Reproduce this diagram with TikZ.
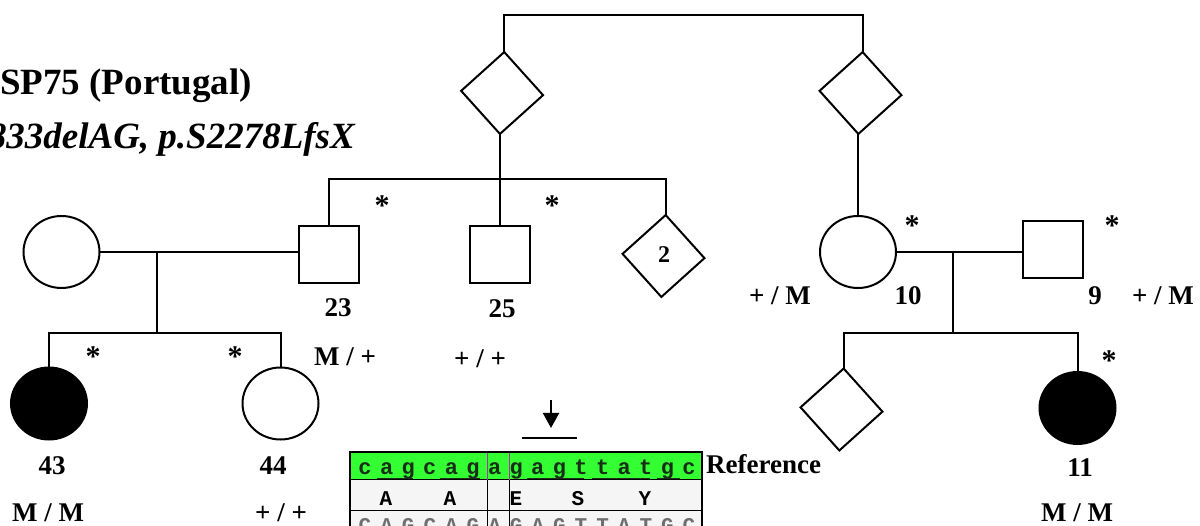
\documentclass[tikz,border=0pt]{standalone}
\usepackage{fontspec}
\setmainfont{Liberation Serif}
\newfontfamily\seqfont{Liberation Mono}
\usetikzlibrary{shapes.geometric,arrows.meta}
\definecolor{seqgreen}{RGB}{51,255,51}
\definecolor{seqmagenta}{RGB}{176,48,176}
\definecolor{seqpale}{RGB}{245,245,245}
\definecolor{seqink}{RGB}{25,45,25}
\definecolor{seqgray}{RGB}{110,110,110}
\tikzset{
	ped/.style={draw, line width=2pt, inner sep=0pt, outer sep=0pt},
	female/.style={ped, ellipse, minimum width=76pt, minimum height=72pt},
	male/.style={ped, rectangle, minimum width=60pt, minimum height=57pt},
	unknown/.style={ped, rectangle, rotate=42, minimum size=58pt},
	affected/.style={fill=black},
	pedline/.style={line width=2pt},
	pedlabel/.style={anchor=base, inner sep=0pt, font=\fontsize{27}{27}\selectfont\bfseries},
	starlabel/.style={anchor=base, inner sep=0pt, font=\fontsize{30}{30}\selectfont\bfseries},
	seqlow/.style={anchor=base, inner sep=0pt, text=seqink, font=\seqfont\bfseries\fontsize{22}{22}\selectfont},
	sequp/.style={anchor=base, inner sep=0pt, font=\seqfont\bfseries\fontsize{21}{21}\selectfont},
}
\begin{document}
\begin{tikzpicture}[x=1pt, y=-1pt]
	\useasboundingbox (0,0) rectangle (1200,526);
	% title
	\node[anchor=base west, inner sep=0pt, font=\fontsize{37}{37}\selectfont\bfseries] (title) at (0,95) {SP75 (Portugal)};
	\node[anchor=base east, inner sep=0pt, font=\fontsize{37}{37}\selectfont\bfseries\itshape] (mutation) at (355,149) {c.6833delAG, p.S2278LfsX};
	%
	% individuals
	\node[unknown] (u1) at (502.1,93) {};
	\node[unknown] (u2) at (860.5,93) {};
	\node[female] (i0) at (61.5,252) {};
	\node[male] (i23) at (328.5,254.5) {};
	\node[male] (i25) at (500,254.5) {};
	\node[unknown] (u3) at (663.5,256) {};
	\node[female] (i10) at (858,252) {};
	\node[male] (i9) at (1052.5,250) {};
	\node[female, affected] (i43) at (49,403.5) {};
	\node[female] (i44) at (280.5,403.5) {};
	\node[unknown] (u4) at (841.5,409.5) {};
	\node[female, affected] (i11) at (1077.5,408) {};
	%
	\coordinate (top) at (680,15);
	\coordinate (sib1) at (500,179);
	\coordinate (mate1) at (157,252);
	\coordinate (sib2) at (157,333);
	\coordinate (mate2) at (953,252);
	\coordinate (sib3) at (953,333);
	%
	% lines of descent
	\draw[pedline] (u1.north east) |- (top) -| (u2.north east);
	\draw[pedline] (u1.south west) -- (u1.south west |- sib1);
	\draw[pedline] (i23.north) |- (sib1) -| (u3.north east);
	\draw[pedline] (i25.north) -- (i25.north |- sib1);
	\draw[pedline] (u2.south west) -- (u2.south west |- i10.north);
	\draw[pedline] (i0.east) -- (i0.east -| i23.west);
	\draw[pedline] (mate1) -- (sib2);
	\draw[pedline] (i43.north) |- (sib2) -| (i44.north);
	\draw[pedline] (i10.east) -- (i10.east -| i9.west);
	\draw[pedline] (mate2) -- (sib3);
	\draw[pedline] (u4.north east) |- (sib3) -| (i11.north);
	%
	% numbers and genotypes
	\node[pedlabel] (l23) at (338,317) {23};
	\node[pedlabel] (l25) at (502,318) {25};
	\node[pedlabel, font=\fontsize{24}{24}\selectfont\bfseries] (l2) at (664,263) {2};
	\node[pedlabel] (g23) at (345,366) {M / +};
	\node[pedlabel] (g25) at (480,368) {+ / +};
	\node[pedlabel] (l43) at (52,475) {43};
	\node[pedlabel] (l44) at (273,475) {44};
	\node[pedlabel] (g43) at (48,521) {M / M};
	\node[pedlabel] (g44) at (281,521) {+ / +};
	\node[pedlabel] (g10) at (780,305) {+ / M};
	\node[pedlabel] (l10) at (908,305) {10};
	\node[pedlabel] (l9) at (1095,305) {9};
	\node[pedlabel] (g9) at (1163,305) {+ / M};
	\node[pedlabel] (l11) at (1080,477) {11};
	\node[pedlabel] (g11) at (1077,521) {M / M};
	\node[pedlabel, anchor=base west] (ref) at (706,474) {Reference};
	%
	% tested individuals
	\foreach \x/\y in {382/202, 552/202, 93/353, 235/353, 912/222, 1112/222, 1109/357}
		\node[starlabel] at (\x,\y+14) {*};
	%
	% sequence
	\fill[seqgreen] (350,452) rectangle (702,480);
	\fill[seqpale] (350,480) rectangle (702,526);
	\foreach \ch [count=\i from 0] in {c,a,g,c,a,g,a,g,a,g,t,t,a,t,g,c}
		\node[seqlow] at (365+21.6*\i,475) {\ch};
	\foreach \a/\b in {377/413, 440/480, 527/584, 592/650, 657/680}
		\draw[line width=1.6pt, seqink] (\a,479) -- (\b,479);
	\foreach \ch/\x in {A/386, A/450, E/516, S/578, Y/645}
		\node[sequp] at (\x,505) {\ch};
	\foreach \ch [count=\i from 0] in {C,A,G,C,A,G,A,G,A,G,T,T,A,T,G,C}
		\node[sequp, text=seqgray] at (365+21.6*\i,532) {\ch};
	\draw[line width=1pt] (350,480) -- (702,480);
	\draw[line width=1pt] (350,510) -- (702,510);
	\draw[line width=1pt, seqmagenta] (487,452) -- (487,480);
	\draw[line width=1pt, seqmagenta] (509,452) -- (509,480);
	\draw[line width=1pt] (487,480) -- (487,526);
	\draw[line width=1pt] (509,480) -- (509,526);
	\draw[line width=2pt] (350,526) -- (350,452) -- (702,452) -- (702,526);
	%
	\coordinate (arrtail) at (551,400);
	\coordinate (arrhead) at (551,428);
	\draw[pedline, -{Triangle[width=16pt,length=15pt]}] (arrtail) -- (arrhead);
	\draw[pedline] (522,438) -- (577,438);
\end{tikzpicture}
\end{document}
